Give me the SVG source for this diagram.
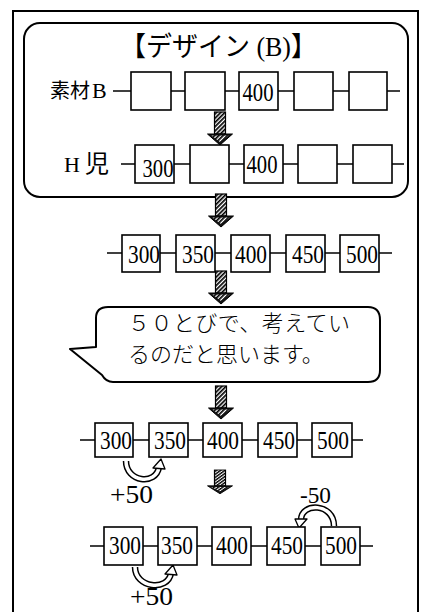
<svg xmlns="http://www.w3.org/2000/svg" width="425" height="612" viewBox="0 0 425 612">
<defs>
<pattern id="hatch" width="3" height="3" patternUnits="userSpaceOnUse" patternTransform="rotate(45)">
<rect width="3" height="3" fill="#fff"/>
<rect width="1.7" height="3" fill="#000"/>
</pattern>
<g id="bigArrow">
<rect x="-5.5" y="0" width="11" height="22" fill="url(#hatch)" stroke="#000" stroke-width="1.2"/>
<polygon points="-12.5,22 12.5,22 0,33" fill="#111" stroke="#000" stroke-width="1"/>
<polygon points="-9,23.5 9,23.5 0,30" fill="url(#hatch)"/>
</g>
</defs>
<style>
.box{fill:#fff;stroke:#000;stroke-width:1.6}
.line{stroke:#000;stroke-width:1.6;fill:none}
.num{font-family:"Liberation Serif",serif;font-size:26px;text-anchor:middle;fill:#000}
.lbl{font-family:"Liberation Serif","Noto Sans CJK JP",serif;fill:#000}
.jp{font-family:"Noto Sans CJK JP",sans-serif;fill:#000}
.hollowOut{fill:none;stroke:#000;stroke-width:6.5}
.hollowIn{fill:none;stroke:#fff;stroke-width:3.5}
.head{fill:#fff;stroke:#000;stroke-width:1.3;stroke-linejoin:round}
</style>
<rect width="425" height="612" fill="#fff"/>
<path d="M13,612 V11 H418 V612" fill="none" stroke="#000" stroke-width="2"/>
<g id="design-frame">
<rect x="24" y="23" width="384" height="174" rx="16" ry="16" fill="none" stroke="#000" stroke-width="2"/>
<text x="120" y="56" class="lbl" font-size="27" textLength="197" lengthAdjust="spacingAndGlyphs">【デザイン (B)】</text>
</g>
<g id="connectors">
<line class="line" x1="113" y1="91" x2="400" y2="91"/>
<line class="line" x1="121" y1="164" x2="404" y2="164"/>
<line class="line" x1="107" y1="253" x2="392" y2="253"/>
<line class="line" x1="80" y1="440" x2="363" y2="440"/>
<line class="line" x1="90" y1="546" x2="373" y2="546"/>
<use href="#bigArrow" x="220" y="112"/>
<use href="#bigArrow" x="221" y="194"/>
<use href="#bigArrow" x="221" y="271"/>
<use href="#bigArrow" x="221" y="386"/>
<g transform="translate(220,470) scale(1,0.72)"><use href="#bigArrow"/></g>
<path class="hollowOut" d="M126,461 C126,482 156,486 159,467"/>
<path class="hollowIn" d="M126,461 C126,482 156,486 159,467"/>
<polygon class="head" points="153,468 165,469 161,459"/>
<path class="hollowOut" d="M135,567 C135,588 168,592 171,573"/>
<path class="hollowIn" d="M135,567 C135,588 168,592 171,573"/>
<polygon class="head" points="165,574 177,575 173,565"/>
<path class="hollowOut" d="M334,526 C334,503 301,502 301,520"/>
<path class="hollowIn" d="M334,526 C334,503 301,502 301,520"/>
<polygon class="head" points="295,519 307,519 299,528"/>
</g>
<g id="row-sozai">
<text class="jp" x="50" y="98" font-size="20">素材<tspan class="lbl" x="92" font-size="22">B</tspan></text>
<rect class="box" x="131" y="72" width="40" height="38"/>
<rect class="box" x="185" y="72" width="40" height="38"/>
<rect class="box" x="239" y="72" width="39" height="38"/>
<text class="num" x="258" y="101" textLength="31" lengthAdjust="spacingAndGlyphs">400</text>
<rect class="box" x="294" y="72" width="39" height="38"/>
<rect class="box" x="349" y="72" width="38" height="38"/>
</g>
<g id="row-hji">
<text class="lbl" x="64" y="172" font-size="22">H<tspan class="jp" x="85" font-size="24">児</tspan></text>
<rect class="box" x="135" y="145" width="39" height="38"/>
<text class="num" x="158" y="177" textLength="31" lengthAdjust="spacingAndGlyphs">300</text>
<rect class="box" x="190" y="145" width="39" height="38"/>
<rect class="box" x="244" y="145" width="39" height="38"/>
<text class="num" x="262" y="173" textLength="31" lengthAdjust="spacingAndGlyphs">400</text>
<rect class="box" x="298" y="145" width="39" height="38"/>
<rect class="box" x="353" y="145" width="39" height="38"/>
</g>
<g id="row-3">
<rect class="box" x="122" y="235" width="38" height="37"/>
<text class="num" x="144" y="263" textLength="32" lengthAdjust="spacingAndGlyphs">300</text>
<rect class="box" x="176" y="235" width="39" height="37"/>
<text class="num" x="198" y="263" textLength="32" lengthAdjust="spacingAndGlyphs">350</text>
<rect class="box" x="231" y="235" width="39" height="37"/>
<text class="num" x="251" y="263" textLength="32" lengthAdjust="spacingAndGlyphs">400</text>
<rect class="box" x="286" y="235" width="39" height="37"/>
<text class="num" x="308" y="263" textLength="32" lengthAdjust="spacingAndGlyphs">450</text>
<rect class="box" x="340" y="235" width="39" height="37"/>
<text class="num" x="362" y="263" textLength="32" lengthAdjust="spacingAndGlyphs">500</text>
</g>
<g id="speech-bubble">
<path d="M108,307 H368 Q380,307 380,320 V370 Q380,382 368,382 H113 Q106,382 102,375 L70,349 L96,347 V318 Q96,307 108,307 Z" fill="#fff" stroke="#000" stroke-width="2" stroke-linejoin="round"/>
<text class="jp" x="128" y="331" font-size="22" font-weight="300" textLength="222" lengthAdjust="spacing">５０とびで、考えてい</text>
<text class="jp" x="128" y="362" font-size="22" font-weight="300">るのだと思います。</text>
</g>
<g id="row-4">
<rect class="box" x="95" y="423" width="38" height="34"/>
<text class="num" x="116" y="449" textLength="32" lengthAdjust="spacingAndGlyphs">300</text>
<rect class="box" x="149" y="423" width="39" height="34"/>
<text class="num" x="170" y="449" textLength="32" lengthAdjust="spacingAndGlyphs">350</text>
<rect class="box" x="203" y="423" width="39" height="34"/>
<text class="num" x="223" y="449" textLength="32" lengthAdjust="spacingAndGlyphs">400</text>
<rect class="box" x="258" y="423" width="39" height="34"/>
<text class="num" x="279" y="449" textLength="32" lengthAdjust="spacingAndGlyphs">450</text>
<rect class="box" x="312" y="423" width="40" height="34"/>
<text class="num" x="333" y="449" textLength="32" lengthAdjust="spacingAndGlyphs">500</text>
<text class="lbl" x="110" y="503" font-size="25" textLength="43" lengthAdjust="spacingAndGlyphs">+50</text>
</g>
<g id="row-5">
<rect class="box" x="104" y="527" width="39" height="38"/>
<text class="num" x="125" y="554" textLength="32" lengthAdjust="spacingAndGlyphs">300</text>
<rect class="box" x="158" y="527" width="39" height="38"/>
<text class="num" x="177" y="554" textLength="32" lengthAdjust="spacingAndGlyphs">350</text>
<rect class="box" x="212" y="527" width="39" height="38"/>
<text class="num" x="232" y="554" textLength="32" lengthAdjust="spacingAndGlyphs">400</text>
<rect class="box" x="267" y="527" width="38" height="38"/>
<text class="num" x="287" y="554" textLength="32" lengthAdjust="spacingAndGlyphs">450</text>
<rect class="box" x="321" y="527" width="39" height="38"/>
<text class="num" x="341" y="554" textLength="32" lengthAdjust="spacingAndGlyphs">500</text>
<text class="lbl" x="300" y="503" font-size="24" textLength="31" lengthAdjust="spacingAndGlyphs">-50</text>
<text class="lbl" x="130" y="605" font-size="25" textLength="43" lengthAdjust="spacingAndGlyphs">+50</text>
</g>
</svg>
